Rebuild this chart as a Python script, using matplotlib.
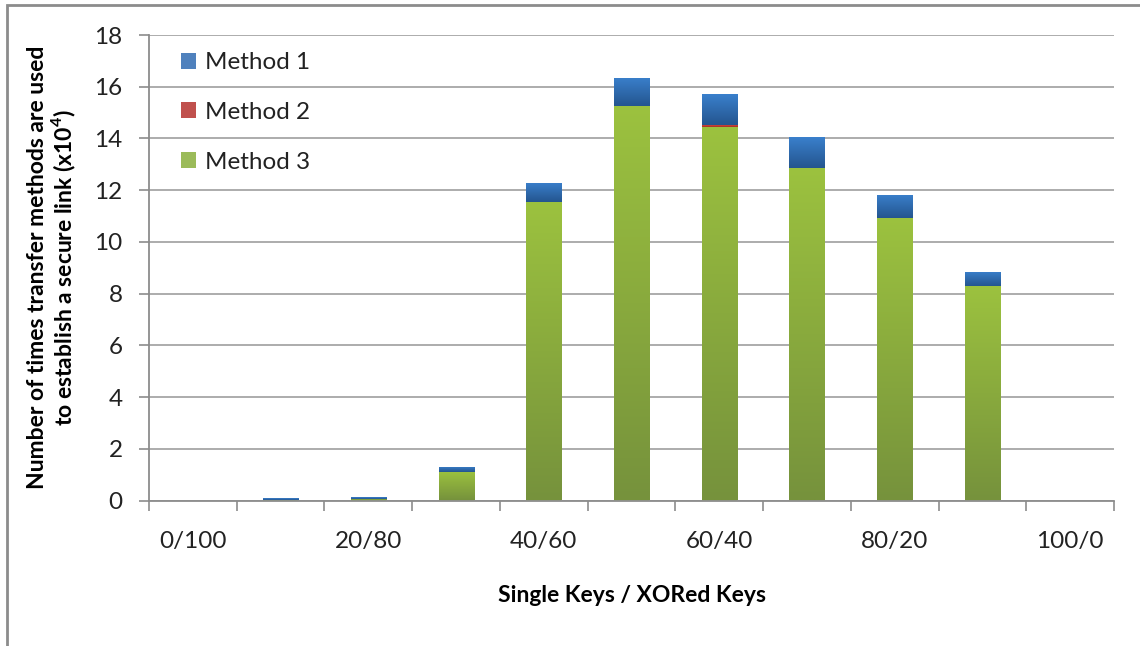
import matplotlib
matplotlib.use("Agg")
import matplotlib.pyplot as plt
import numpy as np
from matplotlib.patches import Rectangle
from matplotlib.colors import LinearSegmentedColormap

plt.rcParams['font.family'] = ['Lato', 'DejaVu Sans']

categories = ['0/100', '10/90', '20/80', '30/70', '40/60', '50/50',
              '60/40', '70/30', '80/20', '90/10', '100/0']
method3 = [0, 0.01, 0.06, 1.10, 11.53, 15.25, 14.46, 12.87, 10.93, 8.30, 0]
method2 = [0, 0, 0, 0, 0, 0, 0.05, 0, 0, 0, 0]
method1 = [0, 0.07, 0.06, 0.21, 0.75, 1.10, 1.19, 1.19, 0.90, 0.55, 0]
series_names = ['Method 1', 'Method 2', 'Method 3']
yticks = [0, 2, 4, 6, 8, 10, 12, 14, 16, 18]

fig = plt.figure(figsize=(11.4, 6.46), dpi=100)
ax = fig.add_axes([149/1140, 1-500.5/646, (1114-149)/1140, (500.5-35)/646])

x = np.arange(len(categories))
w = 0.40
green_cmap = LinearSegmentedColormap.from_list('g', ['#76923C', '#9CC23F'])
blue_cmap = LinearSegmentedColormap.from_list('b', ['#24558F', '#3A80CC'])
red_cmap = LinearSegmentedColormap.from_list('r', ['#A32E26', '#D0453A'])

b3 = ax.bar(x, method3, w, color='#9BBB59', label='Method 3', zorder=2)
b2 = ax.bar(x, method2, w, bottom=method3, color='#C0504D', label='Method 2', zorder=2)
bot1 = [a + b for a, b in zip(method3, method2)]
b1 = ax.bar(x, method1, w, bottom=bot1, color='#4F81BD', label='Method 1', zorder=2)

grad = np.linspace(0, 1, 256).reshape(-1, 1)
for bars, cmap in ((b3, green_cmap), (b2, red_cmap), (b1, blue_cmap)):
    for p in bars:
        h = p.get_height()
        if h <= 0:
            continue
        x0, y0 = p.get_x(), p.get_y()
        im = ax.imshow(grad, cmap=cmap, aspect='auto', origin='lower',
                       extent=(x0, x0 + p.get_width(), y0, y0 + h), zorder=3,
                       interpolation='bilinear')
        im.set_clip_path(p)

ax.set_xlim(-0.5, len(categories) - 0.5)
ax.set_ylim(0, 18)
ax.set_yticks(yticks)
ax.set_yticklabels([str(t) for t in yticks])
ax.yaxis.grid(True, color='#A6A6A6', linewidth=1.3, zorder=0)
ax.set_axisbelow(True)

ax.set_xticks(np.arange(-0.5, len(categories), 1.0))
ax.set_xticklabels([])
ax.set_xticks(x[::2], minor=True)
ax.set_xticklabels(categories[::2], minor=True)
ax.tick_params(axis='x', which='major', length=7, width=1.2, color='#8C8C8C', direction='out')
ax.tick_params(axis='x', which='minor', length=0, pad=22, labelsize=17.5, labelcolor='#222222')
ax.tick_params(axis='y', length=7, width=1.2, color='#8C8C8C', labelsize=17.5, pad=12,
               labelcolor='#222222')

for s in ('top', 'right'):
    ax.spines[s].set_visible(False)
for s in ('left', 'bottom'):
    ax.spines[s].set_color('#8C8C8C')
    ax.spines[s].set_linewidth(1.3)

ax.set_xlabel('Single Keys / XORed Keys', fontsize=16.5, fontweight='bold', labelpad=24)
ax.set_ylabel('Number of times transfer methods are used\nto establish a secure link (x10$^\\mathregular{4}$)',
              fontsize=16.5, fontweight='bold', labelpad=12, linespacing=1.05)

handles = [b1, b2, b3]
leg = ax.legend(handles, series_names, loc='upper left', frameon=False, fontsize=17.5,
                handlelength=0.65, handleheight=0.65, handletextpad=0.35,
                labelspacing=1.18, bbox_to_anchor=(0.01, 1.01))
for t in leg.get_texts():
    t.set_color('#222222')

fig.patches.append(Rectangle((7/1140, -0.1), 1.2, 1.1 - 5/646,
                             transform=fig.transFigure, fill=False,
                             edgecolor='#8C8C8C', linewidth=2))

fig.savefig('out.png', dpi=100)
